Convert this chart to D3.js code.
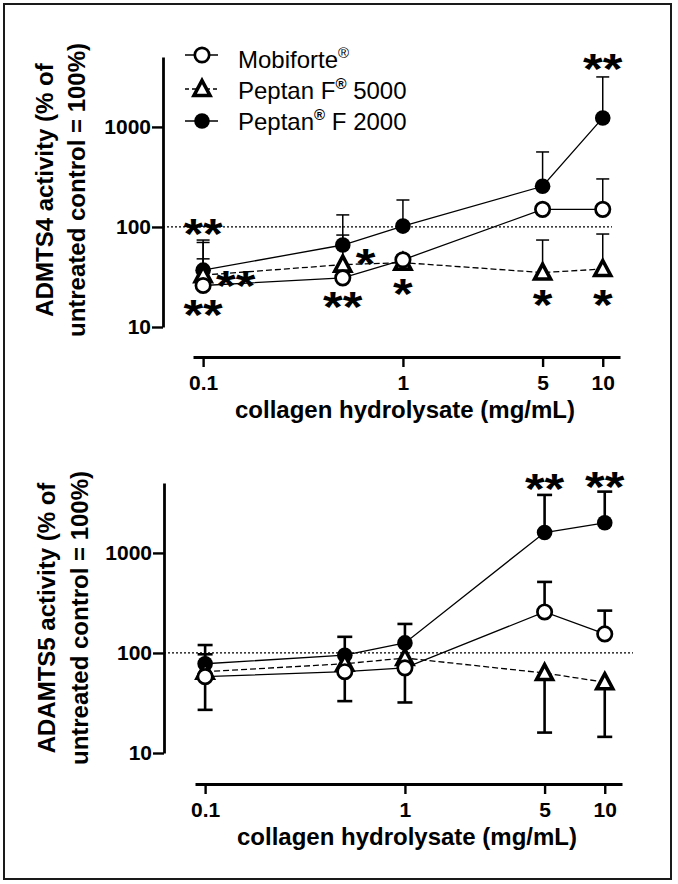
<!DOCTYPE html>
<html><head><meta charset="utf-8">
<script src="https://cdn.jsdelivr.net/npm/d3@7"></script>
<style>
body{margin:0;background:#fff}
svg{display:block}
text{font-family:"Liberation Sans",Arial,Helvetica,sans-serif;fill:#000}
</style>
</head><body>
<svg id="chart" width="678" height="884"></svg>
<script>
// ---------------- DATA ----------------
const doses = [0.1, 0.5, 1, 5, 10];
const xMajorTicks = [0.1, 1, 5, 10];
const xTickLabels = ["0.1", "1", "5", "10"];
const xMinorTicks = [0.2, 0.3, 0.4, 0.5, 0.6, 0.7, 0.8, 0.9, 2, 3, 4, 6, 7, 8, 9];
const yMajorTicks = [10, 100, 1000];
const yTickLabels = ["10", "100", "1000"];
const yMinorTicks = [20, 30, 40, 50, 60, 70, 80, 90, 200, 300, 400, 500, 600, 700, 800, 900, 2000, 3000, 4000, 5000];

const seriesKeys = ["mobiforte", "f5000", "f2000"];
const legendMain = ["Mobiforte", "Peptan F", "Peptan"];
const legendSup = ["®", "®", "®"];
const legendTail = ["", " 5000", " F 2000"];

// ADAMTS4 panel (values in % of untreated control)
const a4Mobiforte = [26, 31, 47, 150, 150];
const a4MobiforteHigh = [70, null, null, null, 302];
const a4MobiforteLow = [null, null, null, null, null];
const a4F5000 = [33, 42, 44, 35, 38];
const a4F5000High = [48, 83, null, 74, 85];
const a4F5000Low = [null, null, null, null, null];
const a4F2000 = [37, 66, 102, 255, 1230];
const a4F2000High = [74, 132, 186, 562, 3160];
const a4F2000Low = [null, null, null, null, null];
// significance marks: dose, label, level (value where mark sits), placement
const a4Stars = [
  {dose: 0.1, label: "**", level: 100, place: "center"},
  {dose: 0.1, label: "**", level: 30, place: "right"},
  {dose: 0.1, label: "**", level: 15.5, place: "center"},
  {dose: 0.5, label: "*", level: 50, place: "right"},
  {dose: 0.5, label: "**", level: 18.6, place: "center"},
  {dose: 1, label: "*", level: 25, place: "center"},
  {dose: 5, label: "*", level: 19.5, place: "center"},
  {dose: 10, label: "*", level: 19.5, place: "center"},
  {dose: 10, label: "**", level: 4470, place: "center"}
];

// ADAMTS5 panel
const a5Mobiforte = [58, 65, 71, 257, 155];
const a5MobiforteHigh = [null, null, null, 513, 265];
const a5MobiforteLow = [27, 33, 32, null, null];
const a5F5000 = [65, 78, 89, 63, 51];
const a5F5000High = [97, null, null, null, null];
const a5F5000Low = [null, null, null, 16, 14.5];
const a5F2000 = [78, 95, 126, 1600, 2000];
const a5F2000High = [120, 145, 195, 3800, 4100];
const a5F2000Low = [null, null, null, null, null];
const a5Stars = [
  {dose: 5, label: "**", level: 5130, place: "center"},
  {dose: 10, label: "**", level: 5370, place: "center"}
];

// ---------------- DRAW ----------------
const svg = d3.select("#chart");
svg.append("rect").attr("x", 4).attr("y", 4).attr("width", 667).attr("height", 875)
  .attr("fill", "#fff").attr("stroke", "#1a1a1a").attr("stroke-width", 2);

function build(vals, high, low) {
  return doses.map((d, i) => ({dose: d, v: vals[i], hi: high[i], lo: low[i]}));
}

function marker(sel, key) {
  if (key === "mobiforte") {
    sel.append("circle").attr("r", 7.2).attr("fill", "#fff").attr("stroke", "#000").attr("stroke-width", 2.7);
  } else if (key === "f2000") {
    sel.append("circle").attr("r", 7.8).attr("fill", "#000");
  } else {
    sel.append("path").attr("d", "M0,-8.5L8,6.5L-8,6.5Z").attr("fill", "#fff")
      .attr("stroke", "#000").attr("stroke-width", 3.6).attr("stroke-linejoin", "miter");
  }
}

function drawPanel(cfg) {
  const x = d3.scaleLog().domain([0.089, 12.2]).range([cfg.x0, cfg.x1]);
  const y = d3.scaleLog().domain([10, 5000]).range([cfg.yb, cfg.yt]);
  const g = svg.append("g");

  // reference line at 100 %
  g.append("line").attr("x1", cfg.yAxisX).attr("x2", cfg.refEnd)
    .attr("y1", y(100)).attr("y2", y(100))
    .attr("stroke", "#000").attr("stroke-width", 1.3).attr("stroke-dasharray", "2,2");

  // y axis
  const gy = g.append("g").attr("transform", `translate(${cfg.yAxisX},0)`);
  gy.call(d3.axisLeft(y).tickValues(yMinorTicks).tickFormat("").tickSize(6).tickSizeOuter(0));
  gy.call(d3.axisLeft(y).tickValues(yMajorTicks).tickFormat(d => yTickLabels[yMajorTicks.indexOf(d)])
    .tickSize(11).tickPadding(1).tickSizeOuter(0));
  gy.selectAll(".domain").attr("stroke-width", 2.8).attr("stroke", "#000");
  gy.selectAll(".tick line").attr("stroke-width", 2.4).attr("stroke", "#000");
  gy.selectAll(".tick text").style("font-size", "21px").style("font-weight", "bold")
    .style("font-family", '"Liberation Sans",Arial,sans-serif').attr("fill", "#000");

  // x axis
  const gx = g.append("g").attr("transform", `translate(0,${cfg.xAxisY})`);
  gx.call(d3.axisBottom(x).tickValues(xMinorTicks).tickFormat("").tickSize(6).tickSizeOuter(0));
  gx.call(d3.axisBottom(x).tickValues(xMajorTicks).tickFormat(d => xTickLabels[xMajorTicks.indexOf(d)])
    .tickSize(10).tickPadding(8).tickSizeOuter(0));
  gx.selectAll(".domain").attr("stroke-width", 2.8).attr("stroke", "#000");
  gx.selectAll(".tick line").attr("stroke-width", 2.4).attr("stroke", "#000");
  gx.selectAll(".tick text").style("font-size", "21px").style("font-weight", "bold")
    .style("font-family", '"Liberation Sans",Arial,sans-serif').attr("fill", "#000");

  // titles
  g.append("text").attr("x", cfg.xTitleX).attr("y", cfg.xTitleY).attr("text-anchor", "middle")
    .style("font-size", "24px").style("font-weight", "bold").text("collagen hydrolysate (mg/mL)");
  cfg.yTitles.forEach((t, i) => {
    g.append("text").attr("transform", `translate(${cfg.yTitleX[i]},${cfg.yTitleCY}) rotate(-90)`)
      .attr("text-anchor", "middle").style("font-size", "24px").style("font-weight", "bold").text(t);
  });

  const series = cfg.series;
  // error bars
  series.forEach(s => {
    s.data.forEach(d => {
      [d.hi, d.lo].forEach(lim => {
        if (lim == null) return;
        g.append("line").attr("x1", x(d.dose)).attr("x2", x(d.dose)).attr("y1", y(d.v)).attr("y2", y(lim))
          .attr("stroke", "#000").attr("stroke-width", cfg.errW);
        g.append("line").attr("x1", x(d.dose) - cfg.capW / 2).attr("x2", x(d.dose) + cfg.capW / 2)
          .attr("y1", y(lim)).attr("y2", y(lim)).attr("stroke", "#000").attr("stroke-width", cfg.errW);
      });
    });
  });
  // connecting lines
  const line = d3.line().x(d => x(d.dose)).y(d => y(d.v));
  series.forEach(s => {
    g.append("path").datum(s.data).attr("d", line).attr("fill", "none").attr("stroke", "#000")
      .attr("stroke-width", 1.3).attr("stroke-dasharray", s.key === "f5000" ? "6,3" : null);
  });
  // markers
  ["f2000", "f5000", "mobiforte"].forEach(k => {
    const s = series.find(q => q.key === k);
    s.data.forEach(d => {
      const m = g.append("g").attr("transform", `translate(${x(d.dose)},${y(d.v)})`);
      marker(m, k);
    });
  });
  // significance marks
  cfg.stars.forEach(st => {
    const cy = y(st.level);
    const fs = 44;
    const baseY = cy + 0.48 * fs;
    let tx = x(st.dose), anchor = "middle";
    if (st.place === "right") { tx = x(st.dose) + 13; anchor = "start"; }
    g.append("text").attr("transform", `translate(${tx},${baseY}) scale(1.15,0.95)`)
      .attr("text-anchor", anchor).style("font-size", fs + "px").style("font-weight", "bold").text(st.label);
  });
  return {x, y, g};
}

drawPanel({
  x0: 193, x1: 620, yb: 327, yt: 57, yAxisX: 163, xAxisY: 357, refEnd: 612,
  xTitleX: 405, xTitleY: 418, yTitleX: [53, 85], yTitleCY: 190,
  yTitles: ["ADMTS4 activity (% of", "untreated control = 100%)"],
  errW: 1.5, capW: 13,
  series: [
    {key: "mobiforte", data: build(a4Mobiforte, a4MobiforteHigh, a4MobiforteLow)},
    {key: "f5000", data: build(a4F5000, a4F5000High, a4F5000Low)},
    {key: "f2000", data: build(a4F2000, a4F2000High, a4F2000Low)}
  ],
  stars: a4Stars
});

drawPanel({
  x0: 195, x1: 622, yb: 753, yt: 483, yAxisX: 164, xAxisY: 784, refEnd: 633,
  xTitleX: 407, xTitleY: 845, yTitleX: [55, 88], yTitleCY: 618,
  yTitles: ["ADAMTS5 activity (% of", "untreated control = 100%)"],
  errW: 2.6, capW: 15,
  series: [
    {key: "mobiforte", data: build(a5Mobiforte, a5MobiforteHigh, a5MobiforteLow)},
    {key: "f5000", data: build(a5F5000, a5F5000High, a5F5000Low)},
    {key: "f2000", data: build(a5F2000, a5F2000High, a5F2000Low)}
  ],
  stars: a5Stars
});

// legend (top panel)
const legendRowsY = [68, 99, 130];
const legendMarkY = [55, 89, 121];
const lg = svg.append("g");
seriesKeys.forEach((k, i) => {
  lg.append("line").attr("x1", 185).attr("x2", 218).attr("y1", legendMarkY[i]).attr("y2", legendMarkY[i])
    .attr("stroke", "#000").attr("stroke-width", 1.3).attr("stroke-dasharray", k === "f5000" ? "4,3" : null);
  const m = lg.append("g").attr("transform", `translate(202,${legendMarkY[i]})`);
  marker(m, k);
  const t = lg.append("text").attr("x", 238).attr("y", legendRowsY[i]).style("font-size", "24px");
  t.append("tspan").text(legendMain[i]);
  t.append("tspan").attr("dy", -10).style("font-size", "15px").style("font-weight", i === 0 ? "normal" : "bold").text(legendSup[i]);
  t.append("tspan").attr("dy", 10).text(legendTail[i]);
});
</script>
</body></html>
